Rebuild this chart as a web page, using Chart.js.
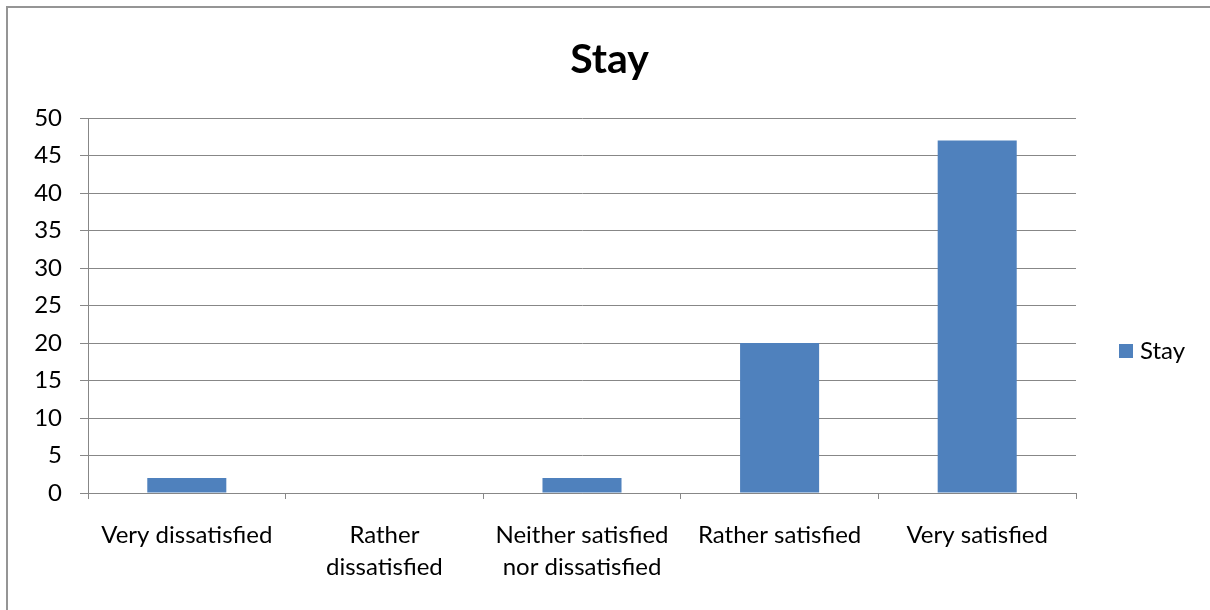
<!DOCTYPE html>
<html>
<head>
<meta charset="utf-8">
<script src="https://cdn.jsdelivr.net/npm/chart.js@4/dist/chart.umd.min.js"></script>
<style>
  html, body { margin: 0; padding: 0; background: #fff; overflow: hidden; width: 1210px; height: 610px; }
  #frame { position: absolute; left: 6px; top: 6px; width: 1300px; height: 800px; border: 2px solid #959595; box-sizing: border-box; }
  #c { position: absolute; left: 0; top: 0; }
</style>
</head>
<body>
<div id="frame"></div>
<canvas id="c" width="1210" height="702"></canvas>
<script>
// Survey answers about the stay
const categories = [
  'Very dissatisfied',
  ['Rather', 'dissatisfied'],
  ['Neither satisfied', 'nor dissatisfied'],
  'Rather satisfied',
  'Very satisfied'
];
const stayValues = [2, 0, 2, 20, 47];
const seriesName = 'Stay';
const chartTitle = 'Stay';
const yTicks = [0, 5, 10, 15, 20, 25, 30, 35, 40, 45, 50];

const FONT = 'Lato, "Open Sans", sans-serif';
const FONT_SIZE = 24;
const TITLE_SIZE = 41;
const GRID = '#878787';
const BAR = '#4f81bd';

// Plot box edges inside the canvas
const PLOT_LEFT = 88, PLOT_RIGHT = 1076, PLOT_TOP = 118, PLOT_BOTTOM = 493;
const CANVAS_W = 1210, CANVAS_H = 702;

// Legend swatch: a 14px square in the series colour
const SWATCH = 14;
const swatch = document.createElement('canvas');
swatch.width = SWATCH; swatch.height = SWATCH;
const sctx = swatch.getContext('2d');
sctx.fillStyle = BAR;
sctx.fillRect(0, 0, SWATCH, SWATCH);

// Legend width is measured up front so the plot and centred title line up
const KEY_PAD = 48, KEY_SLOT = 4;
const m = document.createElement('canvas').getContext('2d');
m.font = FONT_SIZE + 'px ' + FONT;
const keyWidth = KEY_PAD + KEY_SLOT + FONT_SIZE / 2 + m.measureText(seriesName).width + 10;
const padRight = CANVAS_W - PLOT_RIGHT - keyWidth;
const padLeft = 1219 - PLOT_RIGHT - keyWidth;

const titleLine = TITLE_SIZE * 1.2;
const titlePadTop = 60 - titleLine / 2;
const titlePadBottom = PLOT_TOP - titlePadTop - titleLine;

new Chart(document.getElementById('c'), {
  type: 'bar',
  data: {
    labels: categories,
    datasets: [{
      label: seriesName,
      data: stayValues,
      backgroundColor: BAR,
      borderWidth: 0,
      categoryPercentage: 1,
      barPercentage: 0.4
    }]
  },
  options: {
    responsive: false,
    animation: false,
    devicePixelRatio: 1,
    layout: { padding: { left: padLeft, right: padRight, top: 0, bottom: 0 } },
    plugins: {
      title: {
        display: true,
        text: chartTitle,
        color: '#000',
        font: { family: FONT, size: TITLE_SIZE, weight: 'bold', lineHeight: 1.2 },
        padding: { top: titlePadTop, bottom: titlePadBottom }
      },
      legend: {
        display: true,
        position: 'right',
        labels: {
          color: '#000',
          font: { family: FONT, size: FONT_SIZE },
          padding: KEY_PAD,
          usePointStyle: true,
          pointStyle: swatch,
          pointStyleWidth: KEY_SLOT,
          boxHeight: SWATCH
        }
      },
      tooltip: { enabled: false }
    },
    scales: {
      x: {
        offset: true,
        grid: {
          display: true,
          offset: true,
          drawOnChartArea: false,
          drawTicks: true,
          tickLength: 6,
          color: GRID,
          lineWidth: 1
        },
        border: { display: true, color: GRID, width: 1 },
        ticks: {
          color: '#000',
          font: { family: FONT, size: FONT_SIZE, lineHeight: 1.3 },
          padding: 21,
          maxRotation: 0,
          minRotation: 0,
          autoSkip: false
        },
        afterFit: (s) => { s.height = CANVAS_H - PLOT_BOTTOM; }
      },
      y: {
        min: yTicks[0],
        max: yTicks[yTicks.length - 1],
        grid: {
          color: GRID,
          lineWidth: 1,
          drawTicks: true,
          tickLength: 8
        },
        border: { display: true, color: GRID, width: 1 },
        ticks: {
          stepSize: yTicks[1] - yTicks[0],
          color: '#000',
          font: { family: FONT, size: FONT_SIZE },
          padding: 18
        },
        afterBuildTicks: (s) => { s.ticks = yTicks.map(v => ({ value: v })); },
        afterFit: (s) => { s.width = PLOT_LEFT - padLeft; }
      }
    }
  }
});
</script>
</body>
</html>
